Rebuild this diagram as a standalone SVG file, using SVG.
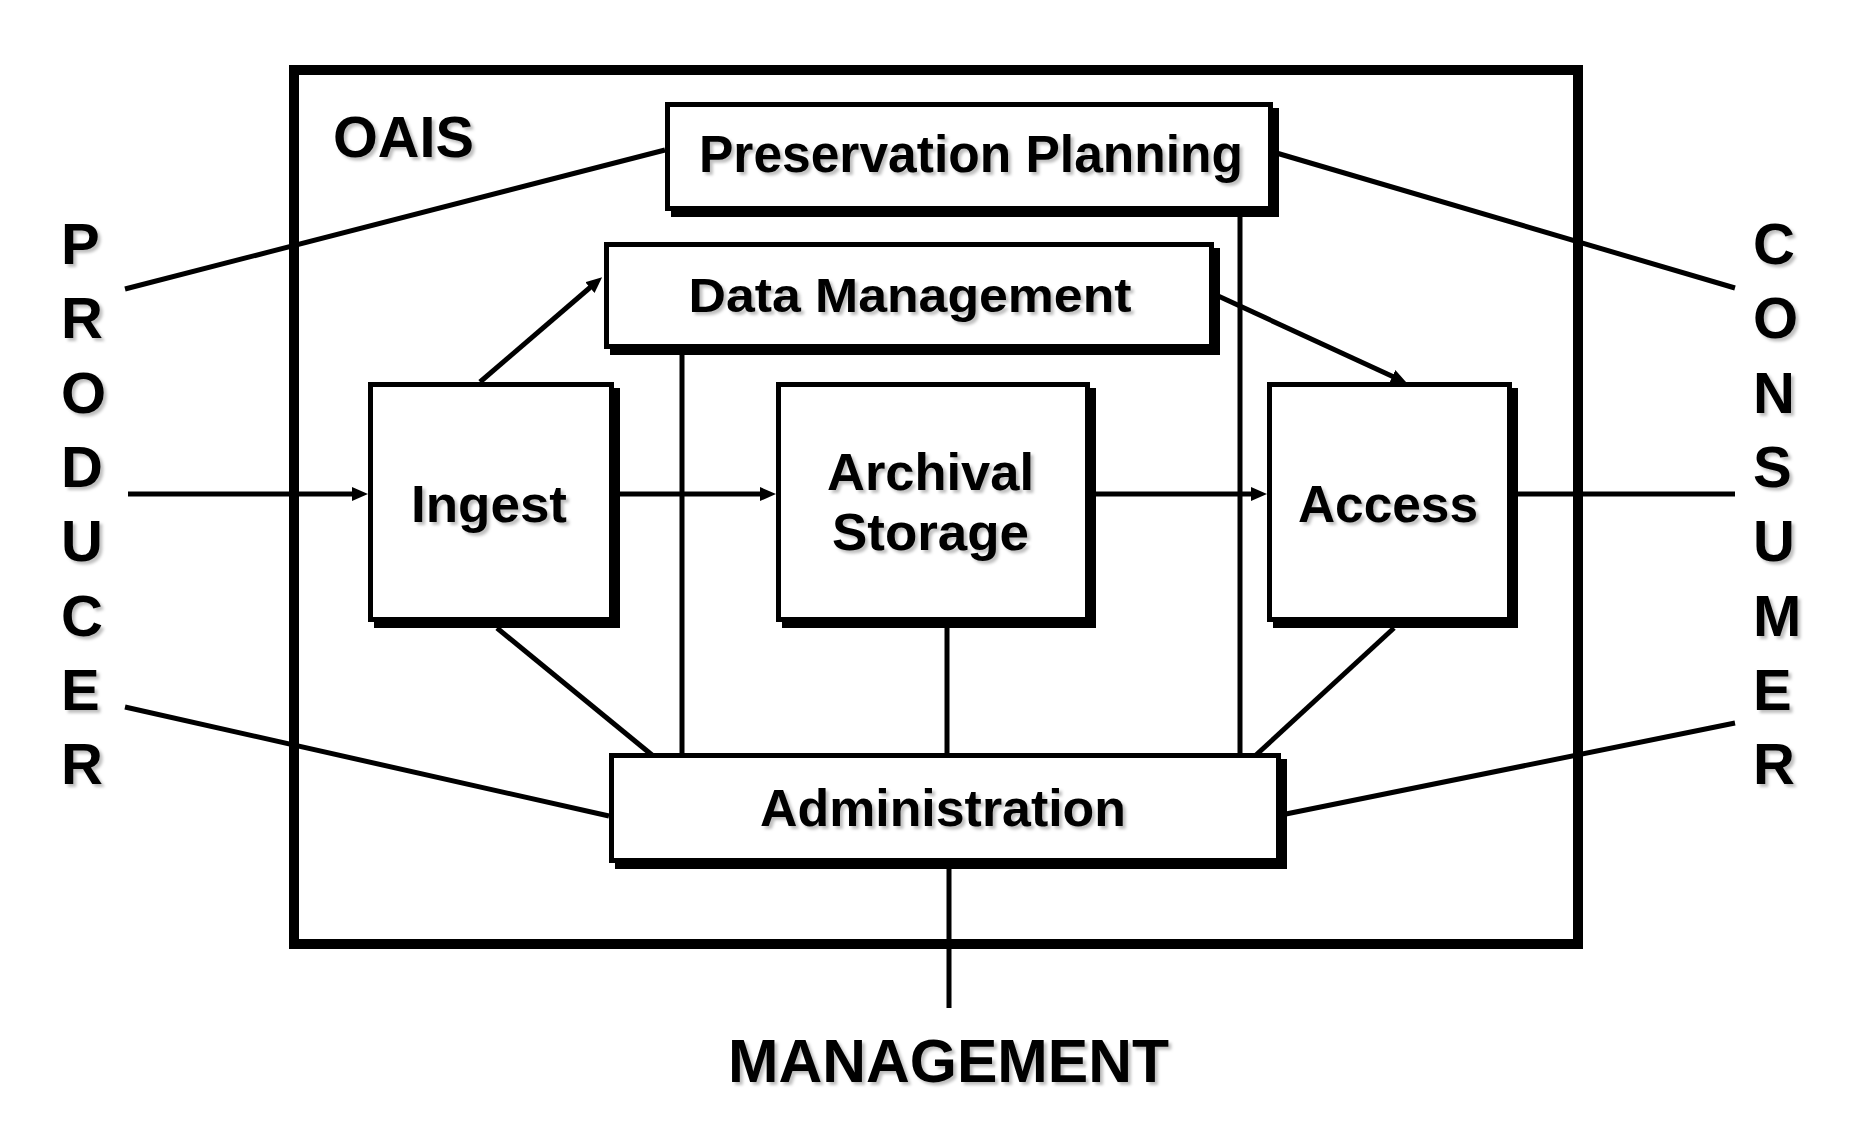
<svg xmlns="http://www.w3.org/2000/svg" width="1857" height="1140" viewBox="0 0 1857 1140">
<style>
.box{fill:#fff;stroke:#000;stroke-width:5}
.shadow{fill:#000}
.lbl{font-family:"Liberation Sans",Arial,sans-serif;font-weight:bold;fill:#000;text-anchor:middle;filter:url(#ts)}
.side{font-family:"Liberation Sans",Arial,sans-serif;font-weight:bold;fill:#000;font-size:58px;filter:url(#ts)}
.conn{stroke:#000;stroke-width:5;fill:none}
.arrow{marker-end:url(#ah)}
</style>
<defs>
<filter id="ts" x="-10%" y="-30%" width="125%" height="170%">
<feDropShadow dx="3" dy="3" stdDeviation="1.5" flood-color="#000" flood-opacity="0.25"/>
</filter>
<marker id="ah" viewBox="0 0 16 14" refX="4" refY="7" markerWidth="16" markerHeight="14" markerUnits="userSpaceOnUse" orient="auto">
<path d="M0,0 L16,7 L0,14 z" fill="#000"/>
</marker>
</defs>
<rect width="1857" height="1140" fill="#fff"/>
<g id="oais">
<rect x="294" y="70" width="1284" height="874" fill="none" stroke="#000" stroke-width="10"/>
<text class="lbl" x="333" y="157" font-size="58" style="text-anchor:start" textLength="141" lengthAdjust="spacingAndGlyphs">OAIS</text>
</g>
<g id="connectors">
<line class="conn" x1="665" y1="150" x2="125" y2="289"/>
<line class="conn" x1="1273" y1="152" x2="1735" y2="288"/>
<line class="conn arrow" x1="128" y1="494" x2="356" y2="494"/>
<line class="conn arrow" x1="614" y1="494" x2="764" y2="494"/>
<line class="conn arrow" x1="1090" y1="494" x2="1255" y2="494"/>
<line class="conn" x1="1512" y1="494" x2="1735" y2="494"/>
<line class="conn arrow" x1="480" y1="382" x2="593" y2="285"/>
<line class="conn arrow" x1="1216" y1="295" x2="1396" y2="378"/>
<line class="conn" x1="682" y1="349" x2="682" y2="755"/>
<line class="conn" x1="1240" y1="211" x2="1240" y2="755"/>
<line class="conn" x1="947" y1="622" x2="947" y2="755"/>
<line class="conn" x1="497" y1="628" x2="652" y2="755"/>
<line class="conn" x1="1394" y1="628" x2="1256" y2="755"/>
<line class="conn" x1="125" y1="707" x2="609" y2="816"/>
<line class="conn" x1="1281" y1="815" x2="1735" y2="723"/>
<line class="conn" x1="949" y1="863" x2="949" y2="1008"/>
</g>
<g id="preservation-planning">
<rect class="shadow" x="671" y="108" width="608" height="109"/>
<rect class="box" x="667.5" y="104.5" width="603" height="104"/>
<text class="lbl" x="971" y="172" font-size="51" textLength="544" lengthAdjust="spacingAndGlyphs">Preservation Planning</text>
</g>
<g id="data-management">
<rect class="shadow" x="610" y="248" width="610" height="107"/>
<rect class="box" x="606.5" y="244.5" width="605" height="102"/>
<text class="lbl" x="910" y="312" font-size="49" textLength="443" lengthAdjust="spacingAndGlyphs">Data Management</text>
</g>
<g id="ingest">
<rect class="shadow" x="374" y="388" width="246" height="240"/>
<rect class="box" x="370.5" y="384.5" width="241" height="235"/>
<text class="lbl" x="489" y="522" font-size="52" textLength="156" lengthAdjust="spacingAndGlyphs">Ingest</text>
</g>
<g id="archival-storage">
<rect class="shadow" x="782" y="388" width="314" height="240"/>
<rect class="box" x="778.5" y="384.5" width="309" height="235"/>
<text class="lbl" x="930.5" y="490" font-size="52" textLength="207" lengthAdjust="spacingAndGlyphs">Archival</text>
<text class="lbl" x="930.5" y="550" font-size="52" textLength="197" lengthAdjust="spacingAndGlyphs">Storage</text>
</g>
<g id="access">
<rect class="shadow" x="1273" y="388" width="245" height="240"/>
<rect class="box" x="1269.5" y="384.5" width="240" height="235"/>
<text class="lbl" x="1388" y="522" font-size="52" textLength="180" lengthAdjust="spacingAndGlyphs">Access</text>
</g>
<g id="administration">
<rect class="shadow" x="615" y="759" width="672" height="110"/>
<rect class="box" x="611.5" y="755.5" width="667" height="105"/>
<text class="lbl" x="943" y="826" font-size="52" textLength="366" lengthAdjust="spacingAndGlyphs">Administration</text>
</g>
<g id="producer">
<text class="side"><tspan x="61" y="264">P</tspan><tspan x="61" y="338">R</tspan><tspan x="61" y="413">O</tspan><tspan x="61" y="487">D</tspan><tspan x="61" y="561">U</tspan><tspan x="61" y="636">C</tspan><tspan x="61" y="710">E</tspan><tspan x="61" y="784">R</tspan></text>
</g>
<g id="consumer">
<text class="side"><tspan x="1753" y="264">C</tspan><tspan x="1753" y="338">O</tspan><tspan x="1753" y="413">N</tspan><tspan x="1753" y="487">S</tspan><tspan x="1753" y="561">U</tspan><tspan x="1753" y="636">M</tspan><tspan x="1753" y="710">E</tspan><tspan x="1753" y="784">R</tspan></text>
</g>
<g id="management">
<text class="lbl" x="948.5" y="1082" font-size="62" textLength="441" lengthAdjust="spacingAndGlyphs">MANAGEMENT</text>
</g>
</svg>
